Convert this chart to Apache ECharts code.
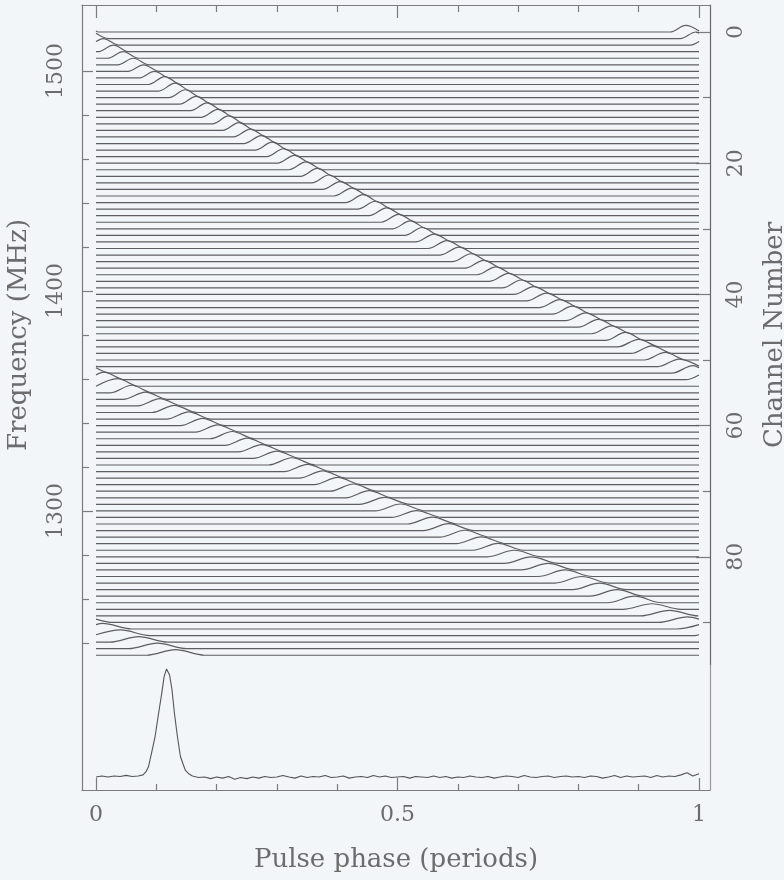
<!DOCTYPE html>
<html><head><meta charset="utf-8">
<script src="https://cdn.jsdelivr.net/npm/echarts@6/dist/echarts.min.js"></script>
<style>html,body{margin:0;padding:0;background:#f2f6f8}#c{width:784px;height:880px}</style>
</head><body><div id="c"></div>
<script>
// Pulse phase (periods) of the dispersed pulse in each of the 96 channels
const pulsePhase = [
  0.978,0.995,0.012,0.029,0.045,0.062,0.079,0.097,0.114,0.131,
  0.148,0.166,0.184,0.202,0.220,0.237,0.256,0.274,0.292,0.311,
  0.329,0.348,0.367,0.386,0.405,0.424,0.443,0.463,0.482,0.502,
  0.521,0.541,0.561,0.582,0.602,0.622,0.643,0.663,0.684,0.705,
  0.726,0.747,0.769,0.790,0.812,0.833,0.855,0.878,0.900,0.922,
  0.944,0.967,0.990,0.013,0.036,0.059,0.082,0.106,0.130,0.154,
  0.177,0.202,0.226,0.251,0.275,0.300,0.325,0.351,0.376,0.401,
  0.427,0.453,0.479,0.505,0.532,0.558,0.585,0.612,0.639,0.667,
  0.694,0.722,0.750,0.778,0.806,0.835,0.864,0.893,0.922,0.951,
  0.981,0.011,0.041,0.071,0.102,0.132
];
// Pulse height (in channel spacings) and half-width (periods), per block of 8 channels
const pulseHeight    = [1.0, 1.2, 1.2, 1.2, 1.2, 1.2, 1.15, 1.1, 1.1, 1.05, 1.0, 0.85];
const pulseHalfWidth = [0.026,0.027,0.028,0.029,0.031,0.033,0.035,0.037,0.039,0.042,0.045,0.048];

// Summed (dedispersed) profile
const profilePhase = [
  0.000,0.010,0.020,0.030,0.040,0.050,0.060,0.070,0.078,0.083,0.087,0.092,0.098,0.103,0.109,0.113,0.117,
  0.122,0.126,0.130,0.135,0.140,0.148,0.155,0.160,0.170,0.180,0.190,0.200,0.210,0.220,0.230,0.240,0.250,
  0.260,0.270,0.280,0.290,0.300,0.310,0.320,0.330,0.340,0.350,0.360,0.370,0.380,0.390,0.400,0.410,0.420,
  0.430,0.440,0.450,0.460,0.470,0.480,0.490,0.500,0.510,0.520,0.530,0.540,0.550,0.560,0.570,0.580,0.590,
  0.600,0.610,0.620,0.630,0.640,0.650,0.660,0.670,0.680,0.690,0.700,0.710,0.720,0.730,0.740,0.750,0.760,
  0.770,0.780,0.790,0.800,0.810,0.820,0.830,0.840,0.850,0.860,0.870,0.880,0.890,0.900,0.910,0.920,0.930,
  0.940,0.950,0.960,0.970,0.980,0.990,1.000
];
const profileValue = [
  0.000,0.010,0.000,0.010,0.005,0.015,0.005,0.010,0.020,0.050,0.095,0.220,0.375,0.560,0.775,0.930,1.000,
  0.945,0.810,0.595,0.375,0.190,0.065,0.025,0.010,-0.005,0.000,-0.015,0.000,-0.010,0.005,-0.020,-0.005,-0.015,
  0.000,-0.010,0.005,-0.005,0.000,0.015,0.000,-0.010,0.010,-0.005,0.005,0.000,0.015,-0.005,0.000,0.010,-0.010,
  0.000,0.005,-0.005,0.015,0.000,0.010,-0.005,0.000,0.005,-0.010,0.005,0.000,-0.005,0.010,-0.005,0.005,-0.010,
  0.000,-0.005,0.010,0.000,-0.005,0.005,-0.010,0.000,0.010,0.005,-0.005,0.015,0.000,-0.005,0.005,0.010,-0.005,
  0.005,0.010,0.000,0.005,-0.005,0.010,0.005,-0.010,0.000,0.015,-0.005,0.010,0.000,0.005,0.010,-0.005,0.015,
  0.000,0.010,0.005,0.020,0.040,0.010,0.030
];

const phaseMajorTicks = [0, 0.5, 1];
const phaseMinorTicks = [0.1, 0.2, 0.3, 0.4, 0.6, 0.7, 0.8, 0.9];
const freqMajorTicks = [1300, 1400, 1500];
const freqMinorTicks = [1240, 1260, 1280, 1320, 1340, 1360, 1380, 1420, 1440, 1460, 1480];
const chanMajorTicks = [0, 20, 40, 60, 80];
const chanMinorTicks = [10, 30, 50, 70, 90];

const FONT = 'DejaVu Serif';
const TXT = '#6c6c6c';
const FRAME = '#7c7c7c';
const TRACE = '#5e5e5e';

function tracePoints(p, h, w, ch) {
  const xs = [0, 1];
  [-1, 0, 1].forEach(s => [p - w, p, p + w].forEach(x => { const v = x + s; if (v > 0 && v < 1) xs.push(v); }));
  xs.sort((a, b) => a - b);
  return xs.map(x => {
    let d = Math.abs(x - p); d = Math.min(d, 1 - d);
    const b = d < w ? h * (1 - d / w) : 0;
    return [x, ch - b];
  });
}

const series = pulsePhase.map((p, ch) => ({
  type: 'line', xAxisIndex: 0, yAxisIndex: 2, showSymbol: false, silent: true,
  smooth: 0.35, smoothMonotone: 'x',
  lineStyle: { color: TRACE, width: 1.2 },
  data: tracePoints(p, pulseHeight[Math.floor(ch / 8)], pulseHalfWidth[Math.floor(ch / 8)], ch)
}));
series.push({
  type: 'line', xAxisIndex: 2, yAxisIndex: 4, showSymbol: false, silent: true,
  lineStyle: { color: '#555', width: 1.1 },
  data: profilePhase.map((x, i) => [x, profileValue[i]])
});

const xMin = -0.0232, xMax = 1.0182;
const hide = { show: false };
const fmt = v => String(v);
function xAx(grid, pos, ticks, len, line, labels, extra) {
  return Object.assign({
    type: 'value', gridIndex: grid, position: pos, min: xMin, max: xMax,
    splitLine: hide,
    axisLine: { show: line, onZero: false, lineStyle: { color: FRAME, width: 1.2 } },
    axisTick: { show: true, inside: true, length: len, customValues: ticks, lineStyle: { color: FRAME, width: 1.2 } },
    axisLabel: labels ? { show: true, customValues: labels, formatter: fmt, margin: 14, color: TXT, fontFamily: FONT, fontSize: 22 } : hide
  }, extra || {});
}
function yAx(grid, pos, min, max, inverse, ticks, len, line, labels, extra, lineColor) {
  return Object.assign({
    type: 'value', gridIndex: grid, position: pos, min: min, max: max, inverse: inverse,
    splitLine: hide,
    axisLine: { show: line, onZero: false, lineStyle: { color: lineColor || FRAME, width: 1.2 } },
    axisTick: ticks ? { show: true, inside: true, length: len, customValues: ticks, lineStyle: { color: FRAME, width: 1.2 } } : hide,
    axisLabel: labels ? { show: true, customValues: labels, formatter: fmt, rotate: 90, margin: 15, color: TXT, fontFamily: FONT, fontSize: 22 } : hide
  }, extra || {});
}

const chart = echarts.init(document.getElementById('c'));
chart.setOption({
  backgroundColor: '#f2f6f8',
  animation: false,
  grid: [
    { left: 82, right: 74, top: 5, height: 660, containLabel: false, outerBoundsMode: 'none' },
    { left: 82, right: 74, top: 665, height: 125, containLabel: false, outerBoundsMode: 'none' }
  ],
  xAxis: [
    xAx(0, 'top', phaseMajorTicks, 13, true, null),
    xAx(0, 'top', phaseMinorTicks, 7, false, null),
    xAx(1, 'bottom', phaseMajorTicks, 12, true, phaseMajorTicks, {
      name: 'Pulse phase (periods)', nameLocation: 'middle', nameGap: 57,
      nameTextStyle: { color: TXT, fontFamily: FONT, fontSize: 26 }
    }),
    xAx(1, 'bottom', phaseMinorTicks, 6, false, null)
  ],
  yAxis: [
    yAx(0, 'left', 1230, 1530, false, freqMajorTicks, 11, true, freqMajorTicks, {
      name: 'Frequency (MHz)', nameLocation: 'middle', nameGap: 50, nameRotate: 90,
      nameTextStyle: { color: TXT, fontFamily: FONT, fontSize: 26 }
    }),
    yAx(0, 'left', 1230, 1530, false, freqMinorTicks, 7, false, null),
    yAx(0, 'right', -4.116, 96.49, true, chanMajorTicks, 14, true, chanMajorTicks, {
      name: 'Channel Number', nameLocation: 'middle', nameGap: 52, nameRotate: 90,
      nameTextStyle: { color: TXT, fontFamily: FONT, fontSize: 26 }
    }, '#666'),
    yAx(0, 'right', -4.116, 96.49, true, chanMinorTicks, 7, false, null),
    yAx(1, 'left', -0.12, 1.037, false, null, 0, true, null),
    yAx(1, 'right', -0.12, 1.037, false, null, 0, true, null, null, '#9a9a9a')
  ],
  series: series
});
</script></body></html>
